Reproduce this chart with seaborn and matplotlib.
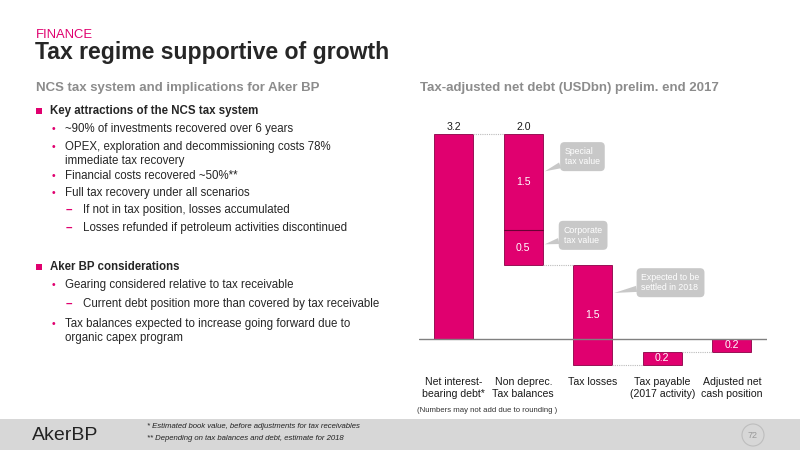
import numpy as np
import pandas as pd
import matplotlib
matplotlib.use("Agg")
import matplotlib.pyplot as plt
from matplotlib.patches import Rectangle, Ellipse
import seaborn as sns

sns.set_style("white")
plt.rcParams['font.family'] = ['Liberation Sans', 'DejaVu Sans']

MAGENTA = '#E0006F'
GREY_TXT = '#8c8c8c'
CALLOUT = '#c8c8c8'

# ---- data (USDbn) ----
categories = ['Net interest-\nbearing debt*', 'Non deprec.\nTax balances', 'Tax losses',
              'Tax payable\n(2017 activity)', 'Adjusted net\ncash position']
# signed step of each bar in the waterfall
steps = [3.2, -2.05, -1.55, 0.2, -0.2]
step_labels = ['3.2', '2.0', '1.5', '0.2', '0.2']
# split of the non-deprec. tax balance bar
split_values = [1.5, 0.5]
split_labels = ['Special\ntax value', 'Corporate\ntax value']

# waterfall geometry
level = np.cumsum(steps)
start = np.concatenate([[0.0], level[:-1]])
start[-1] = 0.0  # last bar is the result, drawn from zero
ends = start + np.array(steps)
df = pd.DataFrame({'cat': categories,
                   'height': np.abs(steps),
                   'bottom': np.minimum(start, ends)})

fig = plt.figure(figsize=(8, 4.5), dpi=100)

def px(x, y):
    return x / 800, 1 - y / 450

# ---- chart ----
ax = fig.add_axes([419 / 800, 0.1613, 347.5 / 800, 0.5973])
sns.barplot(data=df, x='cat', y='height', bottom=df['bottom'].values, color=MAGENTA,
            width=0.56, saturation=1, edgecolor='#8a0045', linewidth=0.6, ax=ax)
ax.set_xlim(-0.5, 4.5)
ax.set_ylim(-0.6, 3.6)
ax.axhline(0, color='#808080', lw=1.0, zorder=3)
for s in ax.spines.values():
    s.set_visible(False)
ax.set_yticks([])
ax.set_xlabel('')
ax.set_ylabel('')
ax.tick_params(axis='x', length=0, labelsize=7.6, pad=0, colors='#1a1a1a')

hw = 0.28
# dotted connectors
conn = [(0, 1, 3.2), (1, 2, ends[1]), (2, 3, ends[2]), (3, 4, ends[3])]
for a, b, yv in conn:
    ax.plot([a + hw, b - hw], [yv, yv], color='#bbbbbb', lw=0.8, ls=(0, (1, 1)), zorder=1)

# split line inside the non-deprec. bar
split_y = 3.2 - split_values[0]
ax.plot([1 - hw, 1 + hw], [split_y, split_y], color='#6a0035', lw=0.8, zorder=4)

# labels
ax.text(0, 3.2 + 0.04, step_labels[0], ha='center', va='bottom', fontsize=7.6, color='#1a1a1a')
ax.text(1, 3.2 + 0.04, step_labels[1], ha='center', va='bottom', fontsize=7.6, color='#1a1a1a')
ax.text(1, 3.2 - split_values[0] / 2, f'{split_values[0]:.1f}', ha='center', va='center', fontsize=7.6, color='white')
ax.text(1, split_y - (split_y - ends[1]) / 2, f'{split_values[1]:.1f}', ha='center', va='center', fontsize=7.6, color='white')
ax.text(2, (start[2] + ends[2]) / 2, step_labels[2], ha='center', va='center', fontsize=7.6, color='white')
ax.text(3, (start[3] + ends[3]) / 2, step_labels[3], ha='center', va='center', fontsize=7.6, color='white')
ax.text(4, (start[4] + ends[4]) / 2, step_labels[4], ha='center', va='center', fontsize=7.6, color='white')

# callouts
box = dict(boxstyle='round,pad=0.55,rounding_size=0.5', fc=CALLOUT, ec='none')
wedge = dict(arrowstyle='wedge,tail_width=0.7', fc=CALLOUT, ec='none', shrinkA=0, shrinkB=0)
ax.annotate(split_labels[0], xy=(1 + hw + 0.03, 2.62), xytext=(1.6, 2.85),
            fontsize=6.3, color='white', ha='left', va='center', bbox=box, arrowprops=wedge)
ax.annotate(split_labels[1], xy=(1 + hw + 0.03, 1.48), xytext=(1.58, 1.62),
            fontsize=6.3, color='white', ha='left', va='center', bbox=box, arrowprops=wedge)
ax.annotate('Expected to be\nsettled in 2018', xy=(2 + hw + 0.03, 0.72), xytext=(2.7, 0.88),
            fontsize=6.3, color='white', ha='left', va='center', bbox=box, arrowprops=wedge)

# ---- header ----
fig.text(*px(36, 35), 'FINANCE', color=MAGENTA, fontsize=9.4, va='center')
fig.text(*px(35, 53), 'Tax regime supportive of growth', fontsize=16.6, fontweight='bold', va='center')
fig.text(*px(36, 88), 'NCS tax system and implications for Aker BP', color=GREY_TXT,
         fontsize=9.5, fontweight='bold', va='center')
fig.text(*px(420, 88), 'Tax-adjusted net debt (USDbn) prelim. end 2017', color=GREY_TXT,
         fontsize=9.5, fontweight='bold', va='center')

# ---- bullet text ----
FS = 8.3

def square(y):
    fig.patches.append(Rectangle(px(36, y + 3), 6 / 800, 6 / 450, transform=fig.transFigure,
                                 fc=MAGENTA, ec='none'))

def dot(y, txt):
    fig.text(*px(52, y), '•', color=MAGENTA, fontsize=7.5, va='center')
    fig.text(*px(65, y), txt, fontsize=FS, va='center')

def dash(y, txt):
    fig.text(*px(66, y), '–', color=MAGENTA, fontsize=FS, fontweight='bold', va='center')
    fig.text(*px(83, y), txt, fontsize=FS, va='center')

square(111)
fig.text(*px(50, 111), 'Key attractions of the NCS tax system', fontsize=FS, fontweight='bold', va='center')
dot(129, '~90% of investments recovered over 6 years')
dot(147, 'OPEX, exploration and decommissioning costs 78%')
fig.text(*px(65, 161), 'immediate tax recovery', fontsize=FS, va='center')
dot(176, 'Financial costs recovered ~50%**')
dot(193, 'Full tax recovery under all scenarios')
dash(210, 'If not in tax position, losses accumulated')
dash(228, 'Losses refunded if petroleum activities discontinued')
square(267)
fig.text(*px(50, 267), 'Aker BP considerations', fontsize=FS, fontweight='bold', va='center')
dot(285, 'Gearing considered relative to tax receivable')
dash(304, 'Current debt position more than covered by tax receivable')
dot(324, 'Tax balances expected to increase going forward due to')
fig.text(*px(65, 338), 'organic capex program', fontsize=FS, va='center')

fig.text(*px(417, 410), '(Numbers may not add due to rounding )', fontsize=5.6, color='#333333', va='center')

# ---- footer ----
fig.patches.append(Rectangle((0, 0), 1, 1 - 419 / 450, transform=fig.transFigure,
                             fc='#d7d7d7', ec='none', zorder=0))
fig.text(*px(32, 436), 'AkerBP', fontsize=14, color='#222222', va='center')
fig.text(*px(147, 427), '* Estimated book value, before adjustments for tax receivables',
         fontsize=5.6, style='italic', color='#222222', va='center')
fig.text(*px(147, 439), '** Depending on tax balances and debt, estimate for 2018',
         fontsize=5.6, style='italic', color='#222222', va='center')
fig.patches.append(Ellipse(px(753, 435), 22 / 800, 22 / 450, transform=fig.transFigure,
                           fc='none', ec='#bdbdbd', lw=0.8))
fig.text(*px(753, 436), '72', fontsize=6.5, color='#999999', ha='center', va='center')

fig.savefig('out.png', dpi=100)
